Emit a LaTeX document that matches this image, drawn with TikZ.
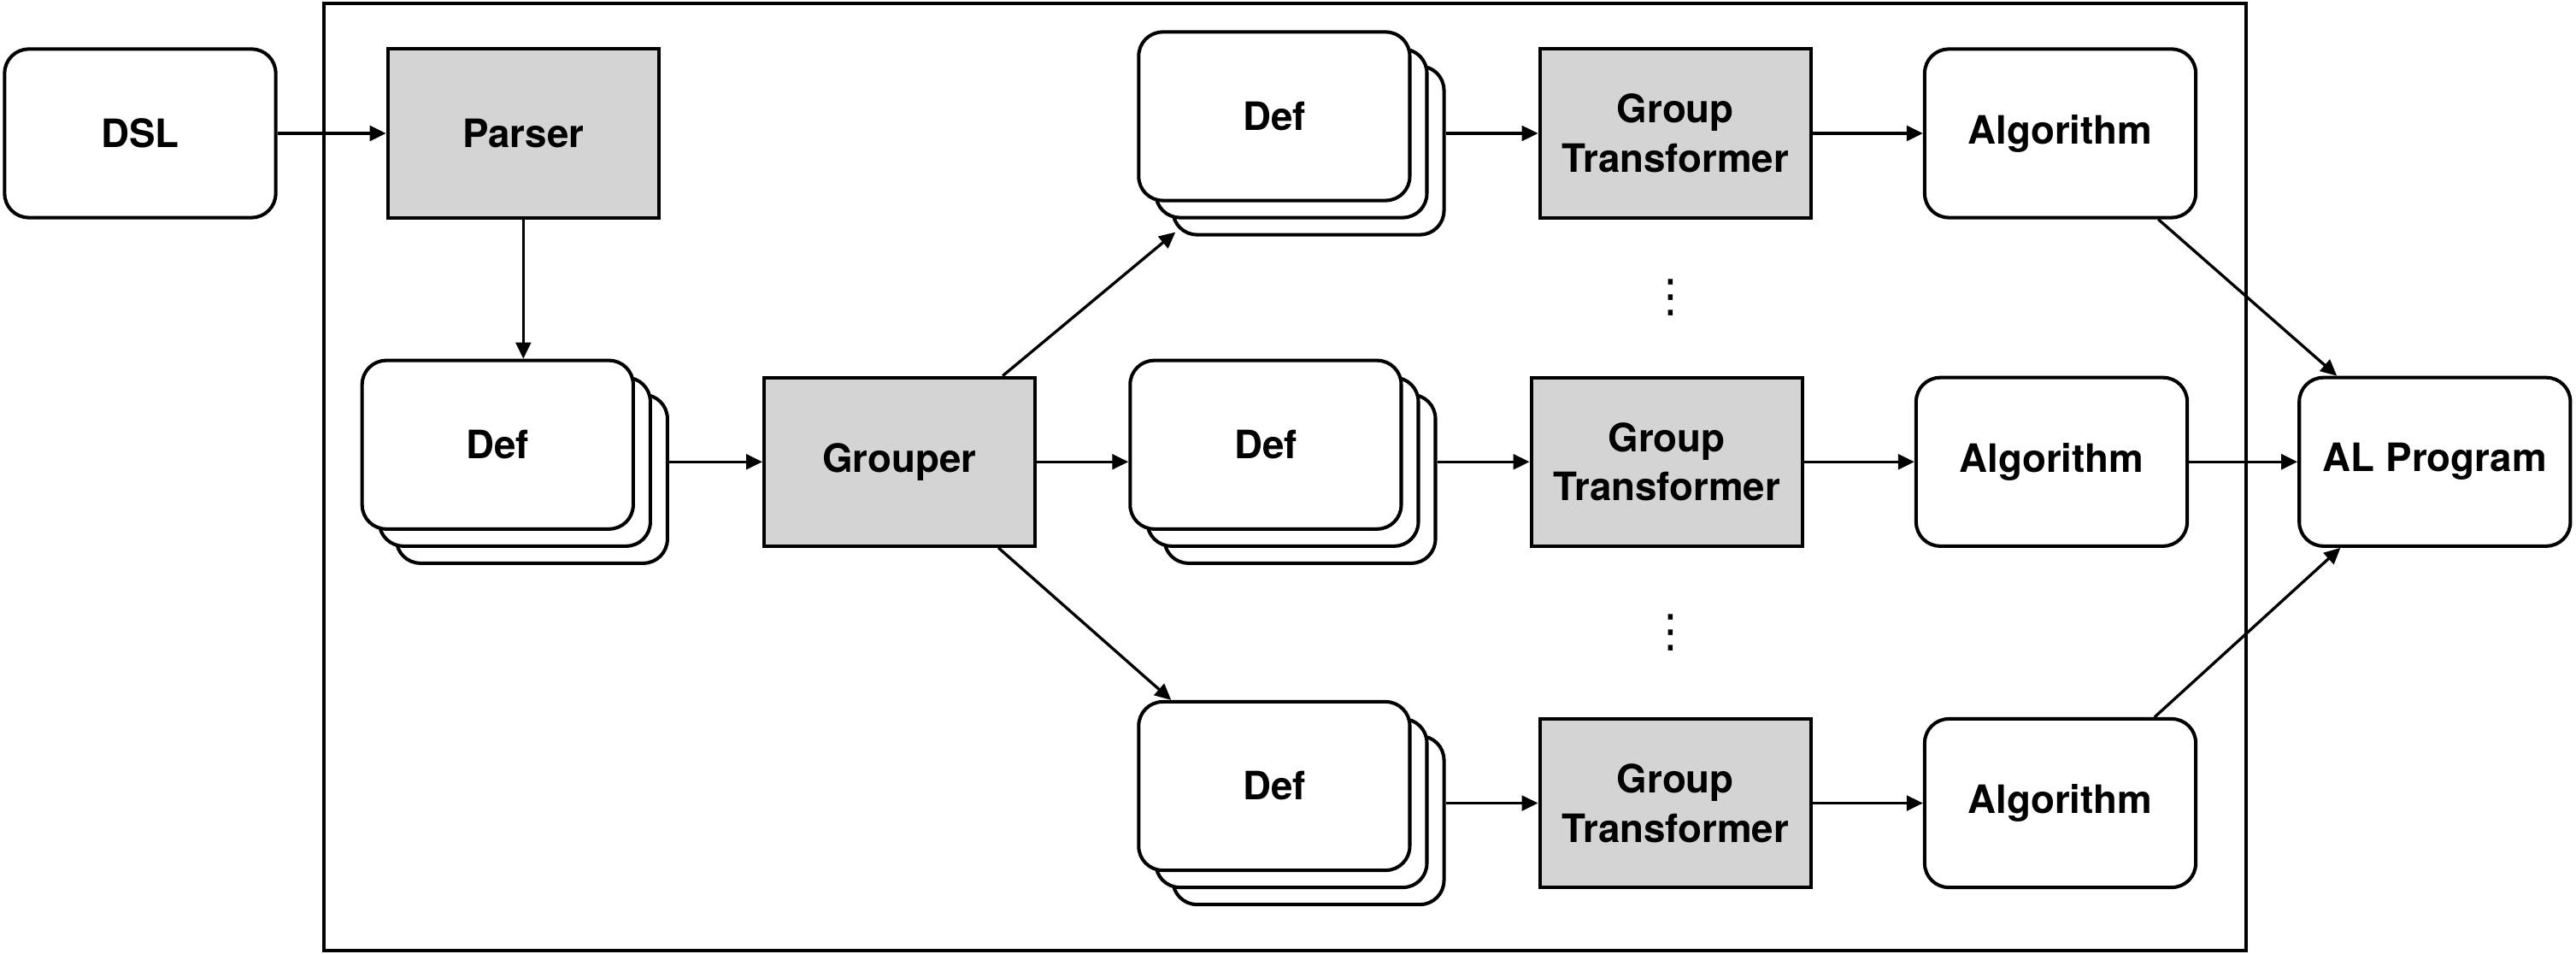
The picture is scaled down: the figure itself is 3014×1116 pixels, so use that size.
\documentclass[tikz,border=0pt]{standalone}
\usepackage{fontspec}
\setmainfont{TeX Gyre Heros}
\newfontfamily\dotsfont{DejaVu Sans}
\usetikzlibrary{arrows.meta, calc, positioning, shadows}

\definecolor{boxgray}{RGB}{212,212,212}

\begin{document}
\begin{tikzpicture}[x=0.01cm, y=-0.01cm,
		every node/.style={align=center, node font=\bfseries\fontsize{13}{16.4}\selectfont},
		plainbox/.style={draw, line width=1.15pt, minimum width=3.17cm, minimum height=1.97cm, inner sep=0pt},
		roundbox/.style={plainbox, rounded corners=8pt, fill=white},
		graybox/.style={plainbox, fill=boxgray},
		defbox/.style={roundbox, double copy shadow={shadow xshift=0.2cm, shadow yshift=-0.2cm}},
		vdotsnode/.style={node font=\dotsfont\fontsize{15}{15}\selectfont, inner sep=0pt},
		link/.style={-{Triangle[length=5.4pt, width=5pt]}, line width=0.95pt}]
	\useasboundingbox (0,0) rectangle (3014,1116);
	\draw[line width=1.15pt] (379,4) rectangle (2628,1112);

	\node[roundbox] (dsl) at (164,156)                          {DSL};
	\node[graybox]  (parser) [right=1.27cm of dsl]              {Parser};
	\node[defbox]   (defs) [below=1.63cm of parser, xshift=-0.3cm] {Def};
	\node[graybox]  (grouper) [right=1.49cm of defs, yshift=-0.2cm] {Grouper};

	% middle row
	\node[defbox]   (defmid) [right=1.07cm of grouper, yshift=0.2cm] {Def};
	\node[graybox]  (gtmid) [right=1.48cm of defmid, yshift=-0.2cm]  {Group\\Transformer};
	\node[roundbox] (algmid) [right=1.29cm of gtmid]                 {Algorithm};
	\node[roundbox] (alprog) [right=1.27cm of algmid]                {AL Program};

	% top row
	\node[defbox]   (deftop) [above=1.83cm of defmid, xshift=0.1cm]  {Def};
	\node[graybox]  (gttop) [right=1.48cm of deftop, yshift=-0.2cm]  {Group\\Transformer};
	\node[roundbox] (algtop) [right=1.29cm of gttop]                 {Algorithm};

	% bottom row
	\node[defbox]   (defbot) [below=1.98cm of defmid, xshift=0.1cm]  {Def};
	\node[graybox]  (gtbot) [right=1.48cm of defbot, yshift=-0.2cm]  {Group\\Transformer};
	\node[roundbox] (algbot) [right=1.29cm of gtbot]                 {Algorithm};

	\node[vdotsnode] (dotsup) at ($(gttop)!0.5!(gtmid)$)  {⋮};
	\node[vdotsnode] (dotsdown) at ($(gtmid)!0.5!(gtbot)$) {⋮};

	\draw[link] (dsl) -- (parser);
	\draw[link] (parser.south) -- (parser.south |- defs.north);
	\draw[link] ([xshift=0.4cm, yshift=-0.2cm]defs.east) -- (grouper.west);
	\draw[link] ([xshift=-0.4cm]grouper.north east) -- ([xshift=0.45cm, yshift=-0.35cm]deftop.south west);
	\draw[link] (grouper.east) -- (grouper.east -| defmid.west);
	\draw[link] ([xshift=-0.45cm]grouper.south east) -- ([xshift=0.4cm]defbot.north west);

	\draw[link] ([xshift=0.4cm, yshift=-0.2cm]deftop.east) -- (gttop.west);
	\draw[link] ([xshift=0.4cm, yshift=-0.2cm]defmid.east) -- (gtmid.west);
	\draw[link] ([xshift=0.4cm, yshift=-0.2cm]defbot.east) -- (gtbot.west);
	\draw[link] (gttop) -- (algtop);
	\draw[link] (gtmid) -- (algmid);
	\draw[link] (gtbot) -- (algbot);
	\draw[link] (algtop) -- (alprog);
	\draw[link] (algmid) -- (alprog);
	\draw[link] (algbot) -- (alprog);
\end{tikzpicture}
\end{document}
